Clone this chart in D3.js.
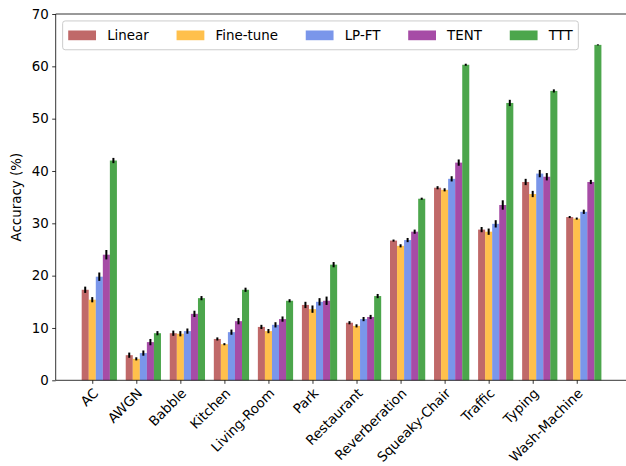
<!DOCTYPE html>
<html>
<head>
<meta charset="utf-8">
<script src="https://cdn.jsdelivr.net/npm/d3@7"></script>
<style>
html, body { margin: 0; padding: 0; background: #fff; }
svg { display: block; font-family: "DejaVu Sans", sans-serif; }
</style>
</head>
<body>
<svg id="chart" width="626" height="466"></svg>
<script>
const categories = ["AC", "AWGN", "Babble", "Kitchen", "Living-Room", "Park", "Restaurant", "Reverberation", "Squeaky-Chair", "Traffic", "Typing", "Wash-Machine"];
const seriesNames = ["Linear", "Fine-tune", "LP-FT", "TENT", "TTT"];
const seriesColors = ["brown", "orange", "royalblue", "purple", "green"];

const linearVals   = [17.3, 4.8, 9.0, 7.9, 10.2, 14.4, 11.0, 26.7, 36.8, 28.8, 37.9, 31.2];
const finetuneVals = [15.4, 4.1, 8.9, 6.9, 9.4, 13.6, 10.4, 25.7, 36.4, 28.4, 35.6, 30.9];
const lpftVals     = [19.8, 5.2, 9.4, 9.2, 10.6, 15.0, 11.7, 26.8, 38.5, 29.9, 39.5, 32.2];
const tentVals     = [24.0, 7.3, 12.7, 11.3, 11.7, 15.2, 12.1, 28.4, 41.6, 33.5, 38.9, 37.9];
const tttVals      = [42.0, 9.0, 15.7, 17.3, 15.2, 22.1, 16.1, 34.7, 60.3, 53.0, 55.3, 64.1];

const linearErr   = [0.6, 0.5, 0.5, 0.3, 0.4, 0.6, 0.3, 0.2, 0.3, 0.5, 0.6, 0.2];
const finetuneErr = [0.5, 0.3, 0.5, 0.2, 0.4, 0.7, 0.3, 0.3, 0.3, 0.6, 0.6, 0.2];
const lpftErr     = [0.8, 0.5, 0.5, 0.5, 0.5, 0.7, 0.4, 0.4, 0.5, 0.7, 0.7, 0.4];
const tentErr     = [0.9, 0.6, 0.6, 0.6, 0.5, 0.8, 0.4, 0.4, 0.6, 0.9, 0.7, 0.4];
const tttErr      = [0.5, 0.4, 0.4, 0.4, 0.3, 0.5, 0.4, 0.2, 0.2, 0.6, 0.3, 0.1];

const yTicks = [0, 10, 20, 30, 40, 50, 60, 70];
const yLabel = "Accuracy (%)";

const seriesVals = [linearVals, finetuneVals, lpftVals, tentVals, tttVals];
const seriesErrs = [linearErr, finetuneErr, lpftErr, tentErr, tttErr];

(function () {
const svg = d3.select("#chart");
const EM = 13.9;   // layout em (10pt @ 100dpi)
const FS = 13.4;   // rendered text size
const pLeft = 55.7, pTop = 14, pBottom = 380.3, pRight = 627.4;
const barW = 0.16;

const n = categories.length;
const lo = -1.5 * barW, hi = (n - 1) + 3.5 * barW;
const pad = 0.05 * (hi - lo);
const x = d3.scaleLinear().domain([lo - pad, hi + pad]).range([pLeft, pRight]);
const y = d3.scaleLinear().domain([0, 70]).range([pBottom, pTop]);

const barData = [];
seriesVals.forEach((vals, j) => {
  vals.forEach((v, i) => {
    barData.push({ i, j, v, e: seriesErrs[j][i] });
  });
});

const g = svg.append("g");
g.selectAll("rect.bar").data(barData).enter().append("rect")
  .attr("class", "bar")
  .attr("x", d => x(d.i + (d.j - 1) * barW - barW / 2))
  .attr("width", d => x(barW) - x(0))
  .attr("y", d => y(d.v))
  .attr("height", d => y(0) - y(d.v))
  .attr("fill", d => seriesColors[d.j])
  .attr("fill-opacity", 0.7);

g.selectAll("line.err").data(barData).enter().append("line")
  .attr("class", "err")
  .attr("x1", d => x(d.i + (d.j - 1) * barW))
  .attr("x2", d => x(d.i + (d.j - 1) * barW))
  .attr("y1", d => y(d.v - d.e))
  .attr("y2", d => y(d.v + d.e))
  .attr("stroke", "#000")
  .attr("stroke-width", 2);

const axG = svg.append("g").attr("stroke", "#000").attr("stroke-width", 0.8).attr("fill", "none");
axG.append("line").attr("x1", pLeft).attr("x2", pLeft).attr("y1", pTop).attr("y2", pBottom);
axG.append("line").attr("x1", pLeft).attr("x2", pRight).attr("y1", pTop).attr("y2", pTop);
axG.append("line").attr("x1", pLeft).attr("x2", pRight).attr("y1", pBottom).attr("y2", pBottom);
axG.append("line").attr("x1", pRight).attr("x2", pRight).attr("y1", pTop).attr("y2", pBottom);

const yAxis = d3.axisLeft(y).tickValues(yTicks).tickSize(3.5).tickPadding(3.5).tickFormat(d3.format("d"));
const yg = svg.append("g").attr("transform", `translate(${pLeft},0)`).call(yAxis);
yg.select(".domain").remove();
yg.selectAll(".tick line").attr("stroke", "#000").attr("stroke-width", 0.8);
yg.selectAll(".tick text").attr("font-size", FS).attr("fill", "#000").attr("font-family", "DejaVu Sans");

const xAxis = d3.axisBottom(x).tickValues(d3.range(n)).tickSize(3.5).tickFormat(() => "");
const xg = svg.append("g").attr("transform", `translate(0,${pBottom})`).call(xAxis);
xg.select(".domain").remove();
xg.selectAll(".tick line").attr("stroke", "#000").attr("stroke-width", 0.8);

const labTop = pBottom + 3.5 + 3.5;
svg.append("g").selectAll("text").data(categories).enter().append("text")
  .attr("transform", (d, i) => `translate(${x(i)},${labTop}) rotate(-45)`)
  .attr("x", 0).attr("y", FS * 0.72)
  .attr("text-anchor", "end")
  .attr("font-size", FS)
  .attr("fill", "#000")
  .text(d => d);

svg.append("text")
  .attr("transform", `translate(21,${(pTop + pBottom) / 2}) rotate(-90)`)
  .attr("text-anchor", "middle")
  .attr("font-size", FS)
  .attr("fill", "#000")
  .text(yLabel);

const lg = svg.append("g");
const frameX = pLeft + 0.5 * EM, frameY = pTop + 0.5 * EM;
const bp = 0.4 * EM, hl = 2.0 * EM, hp = 0.8 * EM, cs = 2.0 * EM;
const frame = lg.append("rect")
  .attr("x", frameX).attr("y", frameY)
  .attr("rx", 2.5).attr("ry", 2.5)
  .attr("fill", "#fff").attr("fill-opacity", 0.8)
  .attr("stroke", "#cccccc").attr("stroke-width", 1);
let cx = frameX + bp;
const rowH = EM * 1.2;
const cy = frameY + bp + rowH / 2 + 0.5;
seriesNames.forEach((name, j) => {
  lg.append("rect")
    .attr("x", cx).attr("y", cy - 0.35 * EM)
    .attr("width", hl).attr("height", 0.7 * EM)
    .attr("fill", seriesColors[j]).attr("fill-opacity", 0.7);
  const t = lg.append("text")
    .attr("x", cx + hl + hp).attr("y", cy)
    .attr("dy", "0.36em")
    .attr("font-size", FS).attr("fill", "#000")
    .text(name);
  const w = t.node().getComputedTextLength();
  cx = cx + hl + hp + w + (j < seriesNames.length - 1 ? cs : 0);
});
frame.attr("width", cx + bp - frameX).attr("height", rowH + 2 * bp + 1);
})();
</script>
</body>
</html>
